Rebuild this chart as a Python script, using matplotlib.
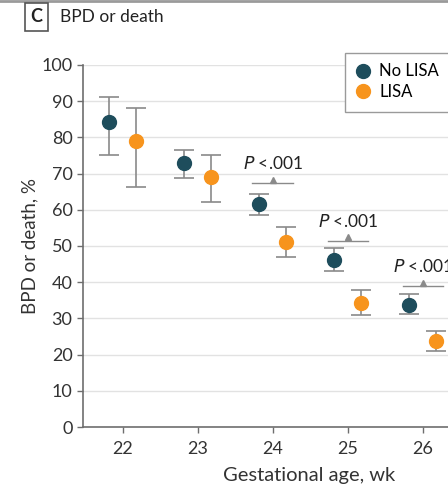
import matplotlib
matplotlib.use("Agg")
from matplotlib import pyplot as plt
from matplotlib.lines import Line2D
from matplotlib.patches import Rectangle

plt.rcParams["font.family"] = ["Lato", "DejaVu Sans"]

# Data.
weeks = [22, 23, 24, 25, 26]
no_lisa = [84.3, 73.0, 61.5, 46.0, 33.8]
no_lisa_lo = [75.1, 68.9, 58.6, 43.1, 31.1]
no_lisa_hi = [91.0, 76.4, 64.3, 49.3, 36.6]
lisa = [79.0, 69.0, 51.2, 34.3, 23.8]
lisa_lo = [66.4, 62.1, 46.9, 30.8, 21.1]
lisa_hi = [88.2, 75.1, 55.3, 37.8, 26.5]
sig_weeks = [24, 25, 26]
sig_level = [67.3, 51.5, 39.0]
sig_text = ["<.001", "<.001", "<.001"]

NAVY = "#1e4d5c"
ORANGE = "#f7941d"
GREY = "#8a8a8a"
OFF = 0.18

fig = plt.figure(figsize=(4.48, 4.88), dpi=100)
ax = fig.add_axes([0.185, 0.125, 1.01, 0.742])


def draw(xs, ys, lo, hi, color, label):
    yerr = [[y - l for y, l in zip(ys, lo)], [h - y for y, h in zip(ys, hi)]]
    ax.errorbar(xs, ys, yerr=yerr, fmt="none", ecolor=GREY, elinewidth=1.2,
                capsize=7, capthick=1.2, zorder=3)
    ax.plot(xs, ys, "o", color=color, markersize=10, label=label, zorder=4)


draw([w - OFF for w in weeks], no_lisa, no_lisa_lo, no_lisa_hi, NAVY, "No LISA")
draw([w + OFF for w in weeks], lisa, lisa_lo, lisa_hi, ORANGE, "LISA")

# Significance markers.
for w, lvl, txt in zip(sig_weeks, sig_level, sig_text):
    ax.plot([w - 0.27, w + 0.27], [lvl, lvl], color=GREY, lw=1.0, zorder=2)
    ax.plot([w], [lvl + 0.9], marker="^", color=GREY, markersize=5,
            linestyle="none", zorder=2)
    ax.text(w, lvl + 3.0, "$\\it{P}$ " + txt, ha="center",
            va="bottom", fontsize=12.5, color="#222222")

ax.set_xlim(21.47, 27.5)
ax.set_ylim(0, 100)
ax.set_xticks(weeks)
ax.set_yticks(range(0, 101, 10))
ax.yaxis.grid(True, color="#e2e2e2", lw=1.0)
ax.set_axisbelow(True)
for side in ["top", "right"]:
    ax.spines[side].set_visible(False)
for side in ["left", "bottom"]:
    ax.spines[side].set_color("#6e6e6e")
    ax.spines[side].set_linewidth(1.2)
ax.tick_params(colors="#6e6e6e", labelcolor="#333333", labelsize=13,
               length=4, width=1.0)
ax.tick_params(axis="x", pad=6)
ax.set_xlabel("Gestational age, wk", fontsize=14.5, color="#333333", labelpad=7)
ax.set_ylabel("BPD or death, %", fontsize=13.5, color="#333333", labelpad=2)

# Legend box runs past the right edge, as in the cropped original.
fig.add_artist(Rectangle((0.770, 0.771), 0.3, 0.121, transform=fig.transFigure,
                         fc="white", ec="#9a9a9a", lw=1.0, zorder=5))
handles = [Line2D([], [], marker="o", color=NAVY, linestyle="none", markersize=10),
           Line2D([], [], marker="o", color=ORANGE, linestyle="none", markersize=10)]
leg = fig.legend(handles, ["No LISA", "LISA"], loc="upper left",
                 bbox_to_anchor=(0.748, 0.906), frameon=False, fontsize=12,
                 handletextpad=0.4, borderpad=0.55, labelspacing=0.25,
                 handlelength=1.2)
leg.set_zorder(6)

# Panel heading with boxed letter and top rule.
fig.add_artist(Line2D([0, 1], [0.997, 0.997], color="#9a9a9a", lw=2))
fig.text(0.082, 0.966, "C", fontsize=13, fontweight="bold", ha="center",
         va="center", color="#222222",
         bbox=dict(boxstyle="square,pad=0.3", fc="white", ec="#555555", lw=1.2))
fig.text(0.135, 0.966, "BPD or death", fontsize=12.5, ha="left", va="center",
         color="#222222")

plt.savefig("out.png", dpi=100)
